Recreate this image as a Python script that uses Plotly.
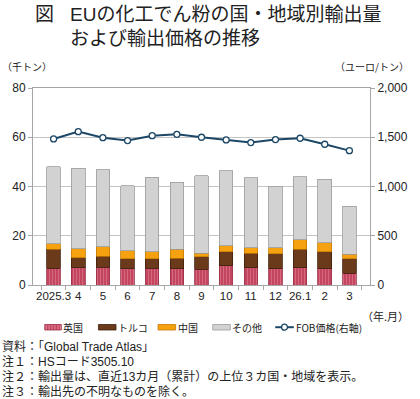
import plotly.graph_objects as go

months = ["2025.3", "4", "5", "6", "7", "8", "9", "10", "11", "12", "26.1", "2", "3"]
uk = [6.8, 7.1, 7.2, 6.7, 6.8, 6.7, 6.3, 7.9, 7.1, 6.5, 7.1, 6.7, 4.8]
turkey = [7.8, 4.0, 4.4, 4.0, 3.9, 4.2, 5.1, 5.6, 5.7, 6.2, 7.5, 6.8, 5.9]
china = [2.1, 3.7, 3.9, 3.3, 2.8, 3.7, 1.4, 2.4, 2.3, 2.4, 3.8, 3.6, 1.8]
other = [31.3, 32.7, 31.3, 26.4, 30.3, 27.1, 31.6, 30.5, 28.5, 25.1, 25.6, 25.8, 19.5]
fob = [1483, 1557, 1496, 1466, 1516, 1530, 1500, 1473, 1446, 1476, 1490, 1429, 1364]
series_names = ["英国", "トルコ", "中国", "その他", "FOB価格(右軸)"]

JP = "Noto Sans CJK JP"
NUM = "Liberation Sans, Noto Sans CJK JP"

C_UK, C_UK_L, C_UK_S = "#c4455f", "#9a3048", "#e48d9e"
C_TR, C_TR_L = "#6b3a1a", "#3f200c"
C_CN, C_CN_L = "#f6a10f", "#c67a00"
C_OT, C_OT_L = "#d2d2d2", "#9c9c9c"
C_LN = "#1c4766"

fig = go.Figure()
fig.add_bar(x=months, y=uk, name=series_names[0],
            marker=dict(color=C_UK, line=dict(color=C_UK_L, width=0.8),
                        pattern=dict(shape="|", fgcolor=C_UK_S, bgcolor=C_UK,
                                     size=3, solidity=0.35, fillmode="overlay")))
fig.add_bar(x=months, y=turkey, name=series_names[1],
            marker=dict(color=C_TR, line=dict(color=C_TR_L, width=0.8)))
fig.add_bar(x=months, y=china, name=series_names[2],
            marker=dict(color=C_CN, line=dict(color=C_CN_L, width=0.8)))
fig.add_bar(x=months, y=other, name=series_names[3],
            marker=dict(color=C_OT, line=dict(color=C_OT_L, width=0.8)))
fig.add_scatter(x=months, y=fob, name=series_names[4], yaxis="y2", mode="lines+markers",
                line=dict(color=C_LN, width=2),
                marker=dict(symbol="circle", size=6, color="white",
                            line=dict(color=C_LN, width=1.3)))

fig.update_layout(
    width=420, height=399,
    margin=dict(l=33, r=42, t=88, b=114),
    paper_bgcolor="white", plot_bgcolor="white",
    barmode="stack", bargap=0.45,
    showlegend=False,
    xaxis=dict(type="category", showline=True, linecolor="#a6a6a6", linewidth=1, mirror=True,
               ticks="outside", tickson="boundaries", ticklen=4, tickcolor="#a6a6a6",
               tickangle=0,
               tickfont=dict(family=NUM, size=11.5, color="#222"), showgrid=False),
    yaxis=dict(range=[0, 80], dtick=20, showgrid=True, gridcolor="#c4c4c4", gridwidth=1,
               showline=True, linecolor="#a6a6a6", ticks="outside", ticklen=4,
               tickcolor="#a6a6a6", tickfont=dict(family=NUM, size=12, color="#222"),
               zeroline=False),
    yaxis2=dict(range=[0, 2000], dtick=500, overlaying="y", side="right", showgrid=False,
                showline=True, linecolor="#a6a6a6", ticks="outside", ticklen=4,
                tickcolor="#a6a6a6", tickformat=",", zeroline=False,
                tickfont=dict(family=NUM, size=12, color="#222")),
)


def px(xp):
    return (xp - 33) / 345


def py(yp):
    return (285 - yp) / 197


def ann(text, x, y, size, xanchor="left", yanchor="middle", family=JP, color="#222"):
    fig.add_annotation(text=text, x=x, y=y, xref="paper", yref="paper", showarrow=False,
                       xanchor=xanchor, yanchor=yanchor, align="left", borderpad=0,
                       font=dict(family=family, size=size, color=color))


def rect(x0, y0, x1, y1, fill, line=None, lw=0.8):
    fig.add_shape(type="rect", xref="paper", yref="paper",
                  x0=px(x0), x1=px(x1), y0=py(y1), y1=py(y0),
                  fillcolor=fill, line=dict(color=line or fill, width=lw), layer="above")


# custom legend (wide swatches like the reference)
ly0, ly1 = 324.5, 330
rect(45, ly0, 62, ly1, C_UK, C_UK_L)
for sx in [46.5, 49.5, 52.5, 55.5, 58.5, 61]:
    fig.add_shape(type="line", xref="paper", yref="paper", x0=px(sx), x1=px(sx),
                  y0=py(ly1 - 0.5), y1=py(ly0 + 0.5), line=dict(color=C_UK_S, width=1),
                  layer="above")
rect(100, ly0, 118, ly1, C_TR, C_TR_L)
rect(161, ly0, 179, ly1, C_CN, C_CN_L)
rect(217, ly0, 235, ly1, C_OT, C_OT_L)
fig.add_shape(type="line", xref="paper", yref="paper", x0=px(281), x1=px(300),
              y0=py(327.2), y1=py(327.2), line=dict(color=C_LN, width=2), layer="above")
fig.add_shape(type="circle", xref="paper", yref="paper", x0=px(287.5), x1=px(293.5),
              y0=py(330.2), y1=py(324.2), fillcolor="white",
              line=dict(color=C_LN, width=1.3), layer="above")
ann(series_names[0], px(63), py(327.5), 10)
ann(series_names[1], px(119), py(327.5), 10)
ann(series_names[2], px(180), py(327.5), 10)
ann(series_names[3], px(236), py(327.5), 10)
ann(series_names[4], px(301), py(327.5), 10)

ann("図", px(34), py(14.5), 19, family=NUM)
ann("EUの化工でん粉の国・地域別輸出量", px(70), py(14.5), 19, family=NUM)
ann("および輸出価格の推移", px(70), py(38.5), 19, family=NUM)
ann("（千トン）", px(0.5), py(66), 10)
ann("（ユーロ/トン）", px(419), py(66), 10, xanchor="right")
ann("（年.月）", px(419), py(316), 11, xanchor="right")
notes = ["資料：「Global Trade Atlas」",
         "注１：HSコード3505.10",
         "注２：輸出量は、直近13カ月（累計）の上位３カ国・地域を表示。",
         "注３：輸出先の不明なものを除く。"]
for i, n in enumerate(notes):
    ann(n, px(0), py(346.5 + 15 * i), 12, family=NUM)

fig.write_html("out.html")
